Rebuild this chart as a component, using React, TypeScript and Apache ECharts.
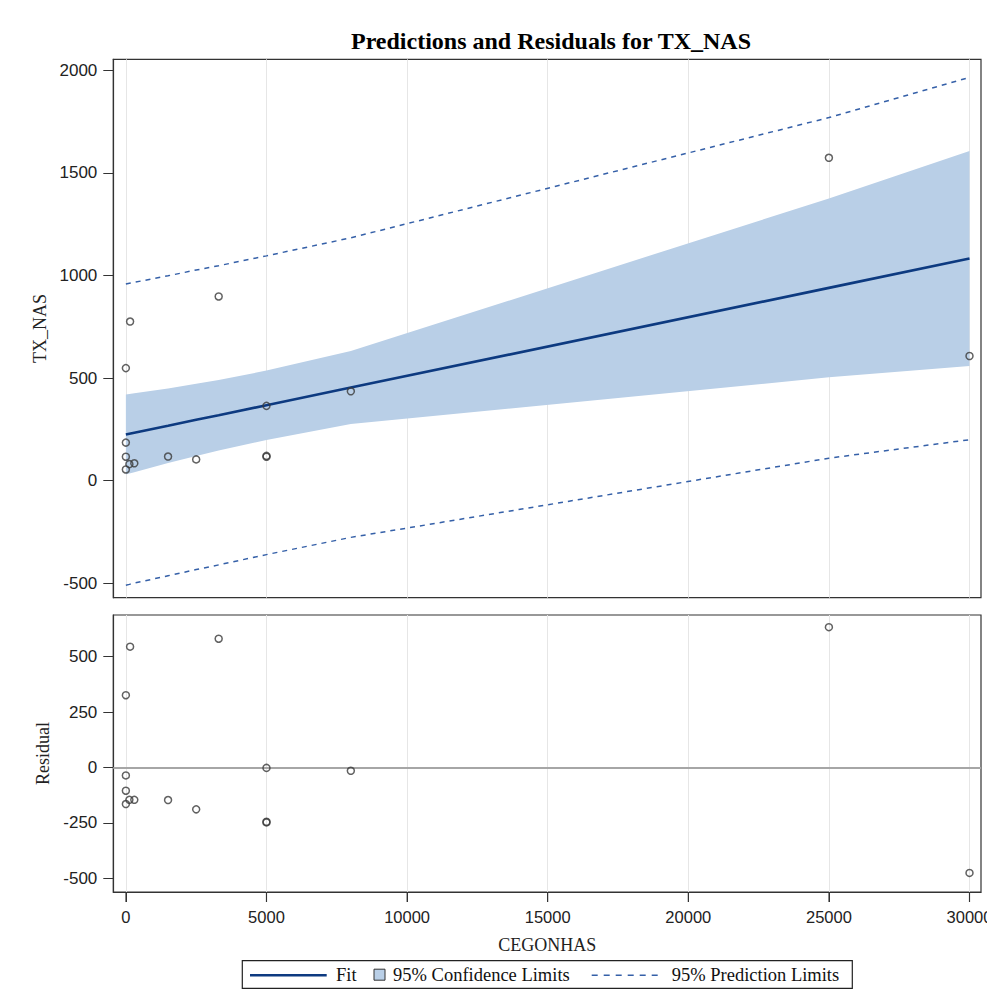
import React, { useEffect, useRef } from "react";
import * as echarts from "echarts";

// Observed data (CEGONHAS, TX_NAS)
const obsX = [0, 0, 0, 0, 125, 150, 300, 1500, 2500, 3300, 5000, 5000, 5000, 8000, 25000, 30000];
const obsY = [549, 186, 117, 55, 81, 776, 85, 118, 104, 898, 365, 117, 121, 436, 1574, 608];
const residuals = [326, -36, -105, -165, -146, 545, -146, -147, -189, 581, -2, -248, -245, -15, 633, -476];

// Fit and limits evaluated at the observed x values
const bandX = [0, 125, 300, 1500, 2500, 3300, 5000, 8000, 25000, 30000];
const fitY = [225, 229, 234, 268, 297, 319, 368, 454, 940, 1083];
const ciLower = [30, 35, 42, 86, 121, 147, 199, 276, 504, 559];
const ciUpper = [420, 423, 426, 450, 473, 491, 537, 632, 1376, 1607];
const predLower = [-509, -505, -499, -463, -433, -410, -360, -276, 110, 200];
const predUpper = [959, 963, 967, 999, 1027, 1048, 1096, 1184, 1770, 1966];

const xTicks = [0, 5000, 10000, 15000, 20000, 25000, 30000];
const yTicksTop = [-500, 0, 500, 1000, 1500, 2000];
const yTicksBottom = [-500, -250, 0, 250, 500];

const FONT = "Liberation Serif";
const TICKFONT = "'Liberation Sans Narrow', 'Liberation Sans', sans-serif";

const RES_MIN = -562;
const RES_MAX = 688;

export default function App() {
  const ref = useRef<HTMLDivElement>(null);
  useEffect(() => {
    if (!ref.current) return;
    const chart = echarts.init(ref.current, null, { renderer: "svg" });
    const pairs = (xs: number[], ys: number[]) => xs.map((x, i) => [x, ys[i]]);
    const plain = (v: number) => String(v);
    const xBase = {
      type: "value" as const,
      min: -447,
      max: 30409,
      splitLine: { show: true, lineStyle: { color: "#e6e6e6", width: 1 } },
    };
    const yCommon = {
      axisLine: { show: true, onZero: false, lineStyle: { color: "#333", width: 1.2 } },
      axisTick: { show: true, length: 10, lineStyle: { color: "#333" } },
      splitLine: { show: false },
      axisLabel: { color: "#222", fontFamily: TICKFONT, fontSize: 17, margin: 16, formatter: plain },
      nameLocation: "middle" as const,
      nameTextStyle: { color: "#222", fontFamily: FONT, fontSize: 18 },
    };
    const gridCommon = {
      show: true,
      borderColor: "#333",
      borderWidth: 1.2,
      backgroundColor: "transparent",
      containLabel: false,
      outerBoundsMode: "none",
    };
    const option: any = {
      animation: false,
      title: {
        text: "Predictions and Residuals for TX_NAS",
        left: 538,
        textAlign: "center",
        top: 16,
        textStyle: { fontFamily: FONT, fontSize: 24, fontWeight: "bold", color: "#000" },
      },
      grid: [
        { ...gridCommon, left: 105.3, top: 51.3, width: 867.7, height: 538.4 },
        { ...gridCommon, left: 105.3, top: 607, width: 867.7, height: 277 },
      ],
      xAxis: [
        {
          ...xBase,
          gridIndex: 0,
          axisLine: { show: false, onZero: false },
          axisTick: { show: false, customValues: xTicks },
          axisLabel: { show: false, customValues: xTicks },
        },
        {
          ...xBase,
          gridIndex: 1,
          position: "bottom",
          axisLine: { show: true, onZero: false, lineStyle: { color: "#333", width: 1.2 } },
          axisTick: { show: true, inside: false, length: 10, customValues: xTicks, lineStyle: { color: "#333", width: 1 } },
          axisLabel: { show: true, customValues: xTicks, color: "#222", fontFamily: TICKFONT, fontSize: 16.5, margin: 16, formatter: plain },
          name: "CEGONHAS",
          nameLocation: "middle",
          nameGap: 44,
          nameTextStyle: { color: "#222", fontFamily: FONT, fontSize: 18 },
        },
      ],
      yAxis: [
        {
          ...yCommon,
          type: "value",
          gridIndex: 0,
          min: -570,
          max: 2054,
          axisTick: { ...yCommon.axisTick, customValues: yTicksTop },
          axisLabel: { ...yCommon.axisLabel, customValues: yTicksTop },
          name: "TX_NAS",
          nameGap: 61,
        },
        {
          ...yCommon,
          type: "value",
          gridIndex: 1,
          min: RES_MIN,
          max: RES_MAX,
          axisTick: { ...yCommon.axisTick, customValues: yTicksBottom },
          axisLabel: { ...yCommon.axisLabel, customValues: yTicksBottom },
          name: "Residual",
          nameGap: 61,
        },
      ],
      series: [
        {
          type: "custom",
          name: "95% Confidence Limits",
          xAxisIndex: 0,
          yAxisIndex: 0,
          data: [0],
          clip: true,
          z: 1,
          renderItem: (_params: any, api: any) => {
            const up = bandX.map((x, i) => api.coord([x, ciUpper[i]]));
            const lo = bandX.map((x, i) => api.coord([x, ciLower[i]])).reverse();
            return {
              type: "polygon",
              shape: { points: up.concat(lo) },
              style: { fill: "#b9cfe7", stroke: "none" },
            };
          },
        },
        {
          type: "line",
          name: "Fit",
          xAxisIndex: 0,
          yAxisIndex: 0,
          data: pairs(bandX, fitY),
          symbol: "none",
          z: 3,
          lineStyle: { color: "#0d3a80", width: 2.6 },
        },
        {
          type: "line",
          name: "95% Prediction Limits",
          xAxisIndex: 0,
          yAxisIndex: 0,
          data: pairs(bandX, predUpper),
          symbol: "none",
          z: 3,
          lineStyle: { color: "#3560a8", width: 1.5, type: [5, 5] },
        },
        {
          type: "line",
          name: "95% Prediction Limits lower",
          xAxisIndex: 0,
          yAxisIndex: 0,
          data: pairs(bandX, predLower),
          symbol: "none",
          z: 3,
          lineStyle: { color: "#3560a8", width: 1.5, type: [5, 5] },
        },
        {
          type: "scatter",
          name: "TX_NAS",
          xAxisIndex: 0,
          yAxisIndex: 0,
          data: pairs(obsX, obsY),
          symbol: "circle",
          symbolSize: 7,
          z: 5,
          itemStyle: { color: "rgba(0,0,0,0)", borderColor: "#3a3a3a", borderWidth: 1.5 },
        },
        {
          type: "scatter",
          name: "Residual",
          xAxisIndex: 1,
          yAxisIndex: 1,
          data: pairs(obsX, residuals),
          symbol: "circle",
          symbolSize: 7,
          z: 5,
          itemStyle: { color: "rgba(0,0,0,0)", borderColor: "#3a3a3a", borderWidth: 1.5 },
          markLine: {
            silent: true,
            symbol: "none",
            label: { show: false },
            lineStyle: { color: "#a6a6a6", width: 2, type: "solid" },
            data: [{ yAxis: 0 }],
            z: 2,
          },
        },
        {
          type: "scatter",
          name: "x ticks",
          xAxisIndex: 1,
          yAxisIndex: 1,
          data: xTicks.map((v) => [v, RES_MIN]),
          clip: false,
          silent: true,
          symbol: "rect",
          symbolSize: [1.2, 10],
          symbolOffset: [0, 5],
          z: 6,
          itemStyle: { color: "#333" },
        },
      ],
      graphic: [
        {
          type: "rect",
          shape: { x: 234.3, y: 952.7, width: 610, height: 27.6 },
          style: { fill: "#fff", stroke: "#222", lineWidth: 1.2 },
        },
        {
          type: "line",
          shape: { x1: 242, y1: 967.2, x2: 318.7, y2: 967.2 },
          style: { stroke: "#0d3a80", lineWidth: 2.6 },
        },
        {
          type: "text",
          x: 328,
          y: 967.2,
          style: { text: "Fit", fontFamily: FONT, fontSize: 18.5, fill: "#111", verticalAlign: "middle" },
        },
        {
          type: "rect",
          shape: { x: 366, y: 961.2, width: 11, height: 11 },
          style: { fill: "#b9cfe7", stroke: "#333", lineWidth: 1 },
        },
        {
          type: "text",
          x: 385,
          y: 967.2,
          style: { text: "95% Confidence Limits", fontFamily: FONT, fontSize: 18.5, fill: "#111", verticalAlign: "middle" },
        },
        {
          type: "line",
          shape: { x1: 583.7, y1: 967.2, x2: 650.3, y2: 967.2 },
          style: { stroke: "#3560a8", lineWidth: 1.5, lineDash: [6, 6] },
        },
        {
          type: "text",
          x: 663.7,
          y: 967.2,
          style: { text: "95% Prediction Limits", fontFamily: FONT, fontSize: 18.5, fill: "#111", verticalAlign: "middle" },
        },
      ],
    };
    chart.setOption(option);
    return () => chart.dispose();
  }, []);
  return <div ref={ref} style={{ width: 987, height: 984 }} />;
}
